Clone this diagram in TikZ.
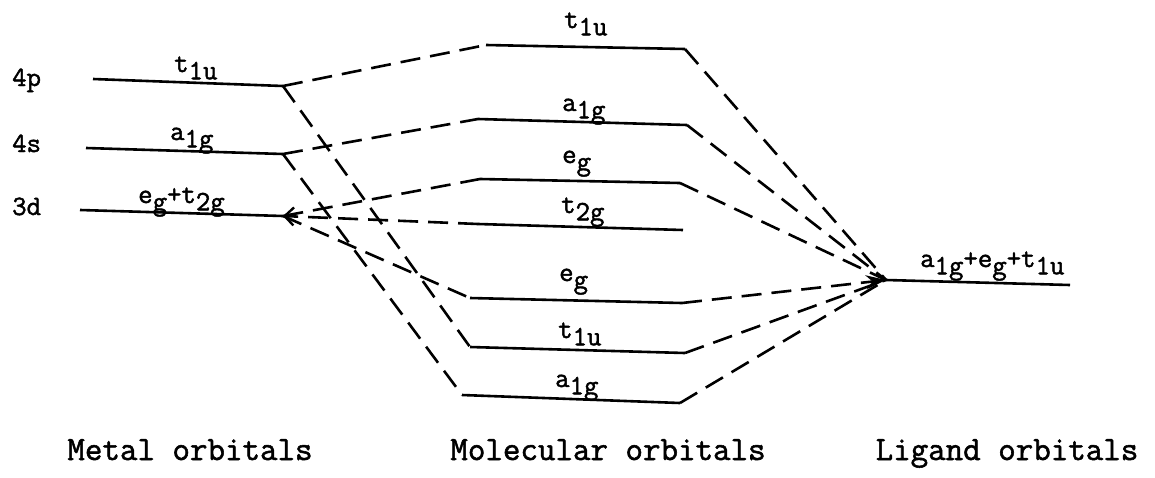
\documentclass[tikz,border=0pt]{standalone}
\usepackage{fontspec}
\newfontfamily\tw[FakeBold=1.6]{Latin Modern Mono}
\usetikzlibrary{arrows.meta}
\newcommand{\lsub}[1]{\raisebox{-0.26em}{#1}}
\begin{document}
\begin{tikzpicture}[x=1pt,y=-1pt,
  lev/.style={line width=2.6pt},
  conn/.style={line width=2.6pt, dash pattern=on 20pt off 10pt},
  lbl/.style={font=\fontsize{28}{30}\selectfont\tw, inner sep=0pt, anchor=base west},
  captext/.style={font=\fontsize{34}{36}\selectfont\tw, inner sep=0pt, anchor=base}]
\useasboundingbox (0,0) rectangle (1155,477);
% metal levels
\coordinate (m4pL) at (93,79);  \coordinate (m4pR) at (283,86);
\coordinate (m4sL) at (86,148); \coordinate (m4sR) at (283,154);
\coordinate (m3dL) at (80,210); \coordinate (m3dR) at (283,216);
% molecular orbital levels
\coordinate (tuAL) at (486,45);  \coordinate (tuAR) at (685,49);
\coordinate (agAL) at (478,119); \coordinate (agAR) at (687,125);
\coordinate (egAL) at (480,179); \coordinate (egAR) at (680,183);
\coordinate (t2L)  at (478,224); \coordinate (t2R)  at (683,230);
\coordinate (egBL) at (470,298); \coordinate (egBR) at (682,303);
\coordinate (tuBL) at (470,347); \coordinate (tuBR) at (685,353);
\coordinate (agBL) at (462,395); \coordinate (agBR) at (680,403);
% ligand level
\coordinate (ligL) at (886,280); \coordinate (ligR) at (1070,285);

\foreach \a/\b in {m4pL/m4pR, m4sL/m4sR, m3dL/m3dR, tuAL/tuAR, agAL/agAR, egAL/egAR, t2L/t2R, egBL/egBR, tuBL/tuBR, agBL/agBR, ligL/ligR}
  \draw[lev] (\a) -- (\b);

% metal to MO
\draw[conn] (m4pR) -- (tuAL);
\draw[conn] (m4pR) -- (tuBL);
\draw[conn] (m4sR) -- (agAL);
\draw[conn] (m4sR) -- (agBL);
\draw[conn] (egAL) -- (m3dR);
\draw[conn, -{Straight Barb[length=9pt,width=18pt,line width=2.4pt]}] (t2L) -- (m3dR);
\draw[conn] (m3dR) -- (egBL);
% ligand to MO
\draw[conn] (tuAR) -- (ligL);
\draw[conn] (agAR) -- (ligL);
\draw[conn] (egAR) -- (ligL);
\draw[conn, -{Stealth[length=20pt,width=14pt]}] (egBR) -- (ligL);
\draw[conn] (tuBR) -- (ligL);
\draw[conn] (agBR) -- (ligL);

% metal labels
\node[lbl] (l4p) at (12,86) {4p};
\node[lbl] (l4s) at (12,152) {4s};
\node[lbl] (l3d) at (12,215) {3d};
\node[lbl] (mt1u) at (174,72) {t\lsub{1u}};
\node[lbl] (ma1g) at (170,140) {a\lsub{1g}};
\node[lbl] (meg) at (138,203) {e\lsub{g}+t\lsub{2g}};
% MO labels
\node[lbl] (ot1uA) at (564,28) {t\lsub{1u}};
\node[lbl] (oa1gA) at (562,111) {a\lsub{1g}};
\node[lbl] (oegA) at (562,163) {e\lsub{g}};
\node[lbl] (ot2g) at (561,213) {t\lsub{2g}};
\node[lbl] (oegB) at (559,281) {e\lsub{g}};
\node[lbl] (ot1uB) at (558,338) {t\lsub{1u}};
\node[lbl] (oa1gB) at (555,387) {a\lsub{1g}};
% ligand label
\node[lbl] (lig) at (920,267) {a\lsub{1g}+e\lsub{g}+t\lsub{1u}};
% captions
\node[captext] (c1) at (190,460) {Metal orbitals};
\node[captext] (c2) at (608,460) {Molecular orbitals};
\node[captext] (c3) at (1007,460) {Ligand orbitals};
\end{tikzpicture}
\end{document}
